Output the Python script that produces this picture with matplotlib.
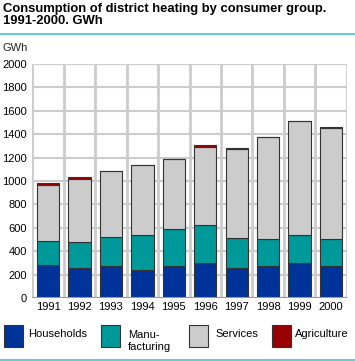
import matplotlib
matplotlib.use("Agg")
import matplotlib.pyplot as plt
from matplotlib.patches import Rectangle
from matplotlib.lines import Line2D
import numpy as np

years = ["1991", "1992", "1993", "1994", "1995", "1996", "1997", "1998", "1999", "2000"]
households = [282, 256, 273, 242, 273, 299, 256, 273, 299, 273]
manufacturing = [210, 222, 248, 296, 316, 324, 256, 231, 239, 231]
services = [470, 538, 563, 597, 597, 669, 763, 870, 973, 947]
agriculture = [19, 20, 0, 0, 3, 14, 11, 6, 2, 8]

series = [
    ("Households", households, "#003399"),
    ("Manu-\nfacturing", manufacturing, "#009999"),
    ("Services", services, "#cccccc"),
    ("Agriculture", agriculture, "#990000"),
]

plt.rcParams["font.family"] = ["Liberation Sans", "DejaVu Sans"]

fig = plt.figure(figsize=(3.55, 3.61), dpi=100)
ax = fig.add_axes([0.091, 0.174, 0.886, 0.649])

x = np.arange(len(years))
bottom = np.zeros(len(years))
for name, vals, col in series:
    vals = np.array(vals, dtype=float)
    ax.bar(x, vals, bottom=bottom, width=0.71, color=col,
           edgecolor="#333333", linewidth=0.8, zorder=3)
    bottom += vals

ax.set_xlim(-0.5, len(years) - 0.5)
ax.set_ylim(0, 2000)
ax.set_yticks(range(0, 2001, 200))
ax.set_xticks(x)
ax.set_xticklabels(years)
ax.set_xticks(np.arange(-0.5, len(years), 1.0), minor=True)
ax.grid(axis="y", color="#cccccc", linewidth=1.5, zorder=0)
ax.grid(axis="x", which="minor", color="#cccccc", linewidth=2, zorder=0)
ax.tick_params(axis="both", which="both", length=0, labelsize=8, colors="black")
ax.tick_params(axis="x", pad=3)
ax.tick_params(axis="y", pad=4)
for s in ax.spines.values():
    s.set_visible(False)
ax.axhline(0, color="#999999", linewidth=1.5, zorder=4)

fig.text(0.008, 0.992, "Consumption of district heating by consumer group.\n1991-2000. GWh",
         fontsize=9.4, fontweight="bold", va="top", ha="left", linespacing=1.05)
fig.add_artist(Line2D([0, 1], [0.907, 0.907], transform=fig.transFigure,
                      color="#66cccc", linewidth=1.5))
fig.text(0.008, 0.868, "GWh", fontsize=8, va="center", ha="left", color="#222222")

# legend
box_x = [4, 101, 189, 272]
txt_x = [28, 128, 215, 295]
for (name, vals, col), bx, tx in zip(series, box_x, txt_x):
    fig.add_artist(Rectangle((bx / 355, (361 - 347) / 361), 19 / 355, 22 / 361,
                             transform=fig.transFigure, facecolor=col,
                             edgecolor="#333333", linewidth=0.8))
    ty = 334 if "\n" not in name else 341
    fig.text(tx / 355, (361 - ty) / 361, name, fontsize=8, va="center", ha="left",
             linespacing=1.3)
fig.add_artist(Line2D([0, 1], [0.004, 0.004], transform=fig.transFigure,
                      color="#66cccc", linewidth=1.5))

fig.savefig("out.png", dpi=100)
